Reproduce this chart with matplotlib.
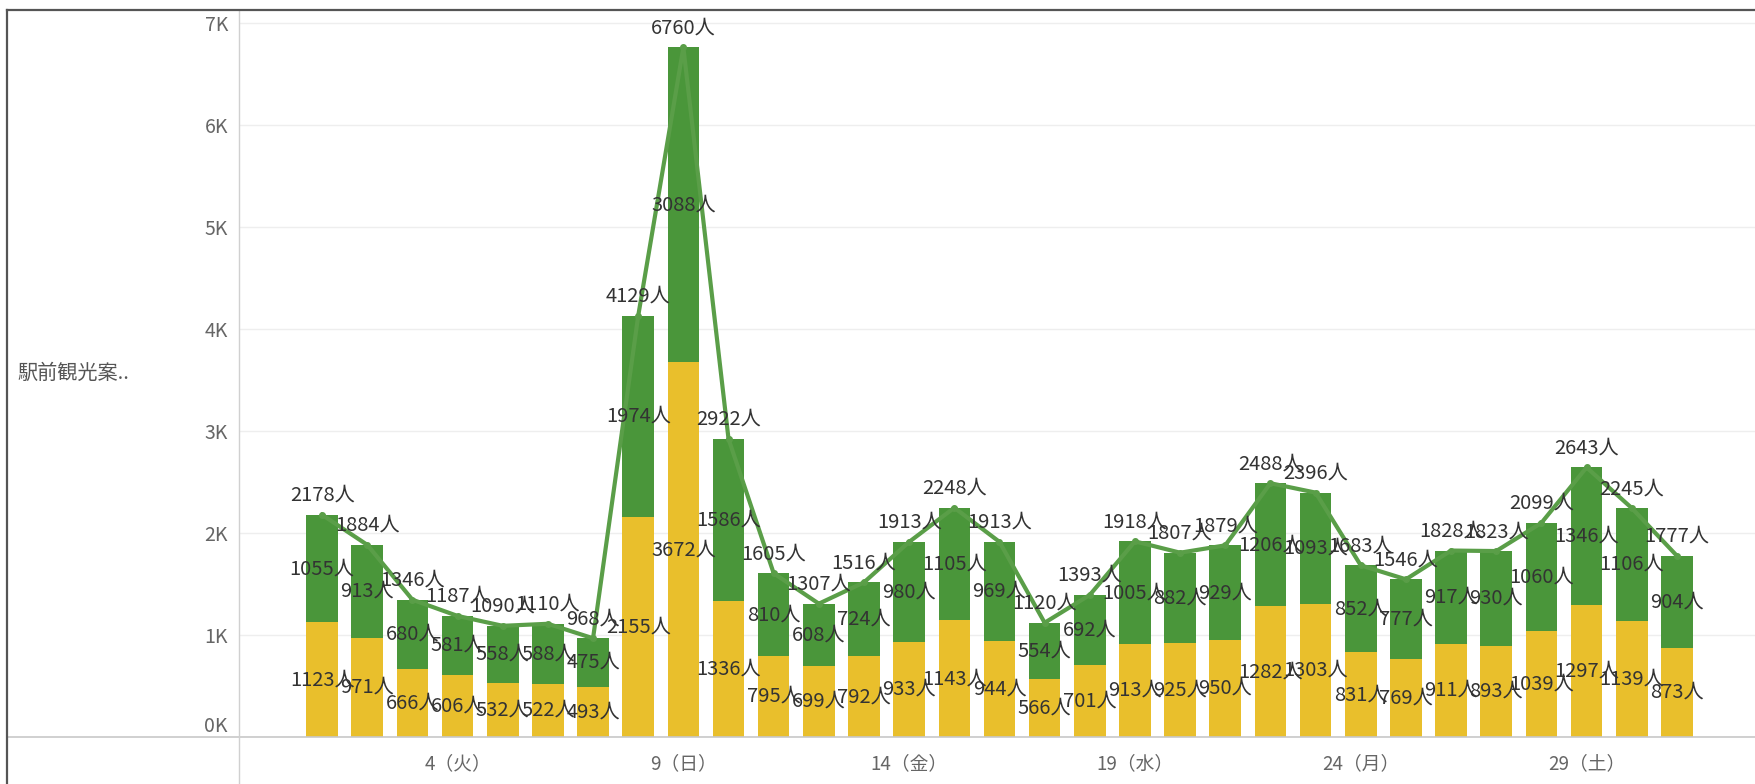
import matplotlib.pyplot as plt
from matplotlib.lines import Line2D

plt.rcParams['font.family'] = ['Noto Sans CJK JP', 'DejaVu Sans']

# daily visitor counts (two segments, stacked) for days 1..31
days = list(range(1, 32))
lower = [1123, 971, 666, 606, 532, 522, 493, 2155, 3672, 1336, 795, 699, 792, 933, 1143,
         944, 566, 701, 913, 925, 950, 1282, 1303, 831, 769, 911, 893, 1039, 1297, 1139, 873]
upper = [1055, 913, 680, 581, 558, 588, 475, 1974, 3088, 1586, 810, 608, 724, 980, 1105,
         969, 554, 692, 1005, 882, 929, 1206, 1093, 852, 777, 917, 930, 1060, 1346, 1106, 904]
totals = [a + b for a, b in zip(lower, upper)]

xtick_days = [4, 9, 14, 19, 24, 29]
xtick_labels = ['4（火）', '9（日）', '14（金）', '19（水）', '24（月）', '29（土）']
ytick_vals = [0, 1000, 2000, 3000, 4000, 5000, 6000, 7000]
ytick_labels = ['0K', '1K', '2K', '3K', '4K', '5K', '6K', '7K']

yellow = '#E9BF2C'
green = '#4A963A'
line_green = '#5A9E48'
W, H = 1755, 784

fig = plt.figure(figsize=(W / 100, H / 100), dpi=100)
ax = fig.add_axes([239 / W, 1 - 737 / H, 1 - 239 / W, (737 - 12) / H])

ax.bar(days, lower, width=0.7, color=yellow, zorder=2)
ax.bar(days, upper, bottom=lower, width=0.7, color=green, zorder=2)
ax.plot(days, totals, color=line_green, lw=3, marker='o', ms=4, zorder=3)

# labels
fs = 14.5
for d, lo, up, tot in zip(days, lower, upper, totals):
    ax.text(d, lo / 2, f'{lo}人', ha='center', va='center', fontsize=fs, color='#333333', zorder=4)
    ax.text(d, lo + up / 2, f'{up}人', ha='center', va='center', fontsize=fs, color='#333333', zorder=4)
    ax.annotate(f'{tot}人', (d, tot), xytext=(0, 14), textcoords='offset points',
                ha='center', va='center', fontsize=fs, color='#333333', zorder=4)

ax.set_xlim(-0.84, 32.73)
ax.set_ylim(0, 7108)
ax.set_yticks(ytick_vals)
ax.set_yticklabels(ytick_labels)
ax.set_xticks(xtick_days)
ax.set_xticklabels(xtick_labels)
ax.tick_params(axis='y', length=0, pad=8, labelsize=14, labelcolor='#666666')
ax.tick_params(axis='x', length=0, pad=12, labelsize=13.5, labelcolor='#666666')
ax.get_yticklabels()[0].set_va('bottom')

ax.grid(axis='y', color='#eeeeee', lw=1)
ax.set_axisbelow(True)
for s in ax.spines.values():
    s.set_visible(False)

# frame lines
fig.add_artist(Line2D([7 / W, 1], [1 - 737 / H, 1 - 737 / H], color='#c8c8c8', lw=1.2, transform=fig.transFigure))
fig.add_artist(Line2D([239 / W, 239 / W], [0, 1 - 11 / H], color='#d0d0d0', lw=1, transform=fig.transFigure))
fig.add_artist(Line2D([7 / W, 1], [1 - 10 / H, 1 - 10 / H], color='#555555', lw=1.6, transform=fig.transFigure))
fig.add_artist(Line2D([7 / W, 7 / W], [0, 1 - 10 / H], color='#555555', lw=1.6, transform=fig.transFigure))

fig.text(17 / W, 1 - 373 / H, '駅前観光案..', ha='left', va='center', fontsize=14.5, color='#555555')

fig.savefig('out.png', dpi=100)
